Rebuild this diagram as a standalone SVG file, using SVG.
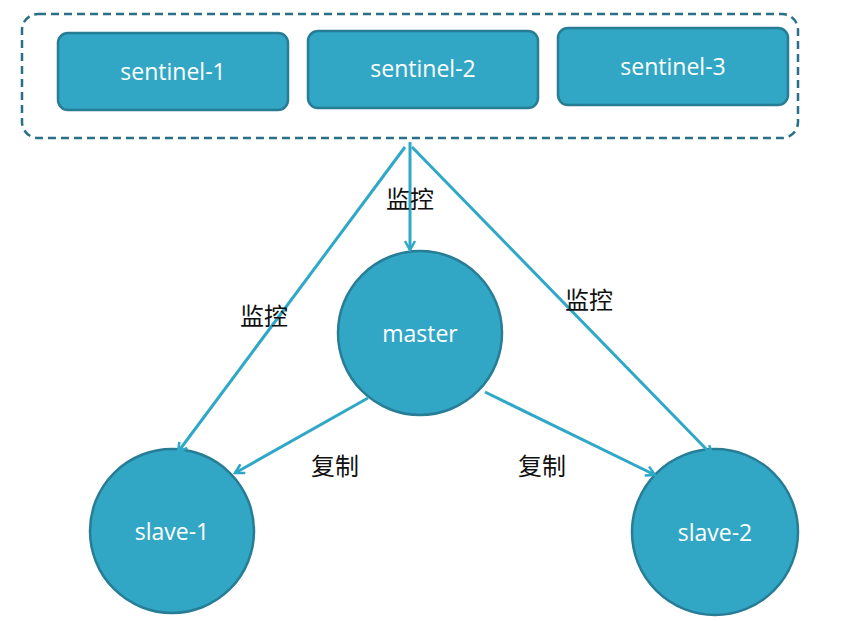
<svg xmlns="http://www.w3.org/2000/svg" width="856" height="621" viewBox="0 0 856 621">
<style>
.box{fill:#31a7c5;stroke:#277d95;stroke-width:2.5}
.t{font-family:"Open Sans","Liberation Sans",sans-serif;font-size:23px;fill:#fff;text-anchor:middle}
.c{stroke:#2fa8c7;stroke-width:3;fill:none}
.l{font-family:"Noto Sans CJK SC",sans-serif;font-size:24px;fill:#111;text-anchor:middle}
</style>
<defs><marker id="a" viewBox="0 0 12 12" refX="10" refY="6" markerWidth="12" markerHeight="12" markerUnits="userSpaceOnUse" orient="auto"><path d="M1,1 L10,6 L1,11" fill="none" stroke="#2fa8c7" stroke-width="2.5"/></marker></defs>
<rect x="22" y="14" width="776" height="124" rx="16" fill="none" stroke="#2a6f89" stroke-width="2.5" stroke-dasharray="8,5"/>
<g id="sentinel-1"><rect class="box" x="58" y="33" width="230" height="77" rx="10"/><text class="t" x="173" y="80">sentinel-1</text></g>
<g id="sentinel-2"><rect class="box" x="308" y="31" width="230" height="77" rx="10"/><text class="t" x="423" y="77">sentinel-2</text></g>
<g id="sentinel-3"><rect class="box" x="558" y="28" width="230" height="77" rx="10"/><text class="t" x="673" y="75">sentinel-3</text></g>
<g id="master"><circle class="box" cx="420" cy="333" r="82"/><text class="t" x="420" y="342">master</text></g>
<g id="slave-1"><circle class="box" cx="172" cy="531" r="82"/><text class="t" x="172" y="540">slave-1</text></g>
<g id="slave-2"><circle class="box" cx="715" cy="532" r="83"/><text class="t" x="715" y="541">slave-2</text></g>
<g id="connectors">
<line class="c" x1="410" y1="142" x2="410" y2="250" marker-end="url(#a)"/>
<line class="c" x1="405" y1="147" x2="178" y2="452" marker-end="url(#a)"/>
<line class="c" x1="412" y1="147" x2="712" y2="455" marker-end="url(#a)"/>
<line class="c" x1="368" y1="398" x2="235" y2="473" marker-end="url(#a)"/>
<line class="c" x1="485" y1="392" x2="655" y2="475" marker-end="url(#a)"/>
</g>
<text class="l" x="410" y="208">监控</text>
<text class="l" x="264" y="325">监控</text>
<text class="l" x="589" y="309">监控</text>
<text class="l" x="335" y="475">复制</text>
<text class="l" x="542" y="475">复制</text>
</svg>
